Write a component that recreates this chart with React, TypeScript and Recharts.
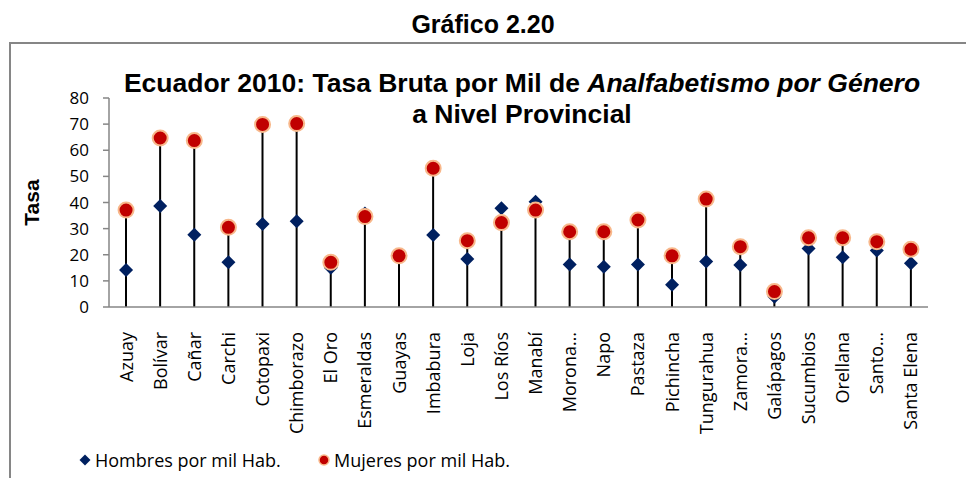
import React from 'react';
import { ComposedChart, Bar, Line, XAxis, YAxis, Legend } from 'recharts';

const provincias = [
  'Azuay', 'Bolívar', 'Cañar', 'Carchi', 'Cotopaxi', 'Chimborazo', 'El Oro', 'Esmeraldas',
  'Guayas', 'Imbabura', 'Loja', 'Los Ríos', 'Manabí', 'Morona…', 'Napo', 'Pastaza',
  'Pichincha', 'Tungurahua', 'Zamora…', 'Galápagos', 'Sucumbios', 'Orellana', 'Santo…', 'Santa Elena',
];
const hombres = [
  14.2, 38.7, 27.7, 17.1, 31.8, 32.8, 15.0, 35.8, 19.0, 27.6, 18.4, 37.8,
  40.3, 16.3, 15.4, 16.3, 8.5, 17.4, 16.1, 3.9, 22.4, 19.0, 21.6, 16.7,
];
const mujeres = [
  37.1, 64.7, 63.7, 30.5, 69.9, 70.2, 17.1, 34.6, 19.6, 53.1, 25.4, 32.3,
  37.1, 28.8, 28.8, 33.3, 19.6, 41.3, 23.1, 5.9, 26.5, 26.5, 25.0, 22.1,
];
const yTicks = [0, 10, 20, 30, 40, 50, 60, 70, 80];

const NAVY = '#002060';
const RED = '#C00000';
const RED_RING = '#F8B88B';
const AXIS = '#868686';
const SANS = '"Open Sans", sans-serif';
const ARIAL = '"Liberation Sans", Arial, sans-serif';

const data = provincias.map((p, i) => ({
  provincia: p,
  hombres: hombres[i],
  mujeres: mujeres[i],
}));

const Diamond = (props: any) => {
  const { cx, cy, index } = props;
  if (cx == null || cy == null) return null;
  const s = 7;
  return (
    <path
      key={`h-${index}`}
      d={`M${cx},${cy - s}L${cx + s},${cy}L${cx},${cy + s}L${cx - s},${cy}Z`}
      fill={NAVY}
    />
  );
};

const Dot = (props: any) => {
  const { cx, cy, index } = props;
  if (cx == null || cy == null) return null;
  return <circle key={`m-${index}`} cx={cx} cy={cy} r={7.5} fill={RED} stroke={RED_RING} strokeWidth={2} />;
};

const ProvTick = ({ x, y, payload }: any) => {
  const ay = y + 25;
  return (
    <text
      x={x}
      y={ay}
      dy="0.36em"
      transform={`rotate(-90, ${x}, ${ay})`}
      textAnchor="end"
      fontFamily={SANS}
      fontSize={18}
      fill="#000"
    >
      {payload.value}
    </text>
  );
};

// only the two marker series, the stems stay out of the legend
const LegendBox = ({ payload }: any) => (
  <div style={{ display: 'flex', alignItems: 'center', fontFamily: SANS, fontSize: 18, lineHeight: '24px', color: '#000', whiteSpace: 'nowrap' }}>
    {(payload || [])
      .filter((e: any) => e.type !== 'none' && e.dataKey !== 'tallo')
      .map((e: any) => (
        <div key={e.value} style={{ display: 'flex', alignItems: 'center', width: e.dataKey === 'hombres' ? 239 : 'auto' }}>
          <svg width={14} height={14} style={{ marginRight: 3 }}>
            {e.dataKey === 'hombres' ? (
              <path d="M7,1.5L12.5,7L7,12.5L1.5,7Z" fill={NAVY} />
            ) : (
              <circle cx={7} cy={7} r={5} fill={RED} stroke={RED_RING} strokeWidth={1.5} />
            )}
          </svg>
          <span>{e.value}</span>
        </div>
      ))}
  </div>
);

export default function App() {
  return (
    <div style={{ position: 'absolute', left: 0, top: 0, width: 966, height: 478, overflow: 'hidden', background: '#fff' }}>
      <div
        style={{
          position: 'absolute', left: 0, top: 9, width: 966, textAlign: 'center',
          fontFamily: ARIAL, fontWeight: 'bold', fontSize: 25, lineHeight: '30px',
        }}
      >
        Gráfico 2.20
      </div>
      <div
        style={{
          position: 'absolute', left: 9, top: 42, width: 1100, height: 600,
          border: `2.5px solid ${AXIS}`, boxSizing: 'border-box',
        }}
      />
      <ComposedChart
        width={966}
        height={478}
        data={data}
        margin={{ top: 98, right: 38, bottom: 0, left: 69 }}
        style={{ position: 'absolute', left: 0, top: 0 }}
      >
        <XAxis
          dataKey="provincia"
          interval={0}
          height={171}
          tickLine={false}
          tickSize={0}
          tickMargin={0}
          stroke={AXIS}
          strokeWidth={1.5}
          tick={<ProvTick />}
        />
        <YAxis
          domain={[0, 80]}
          ticks={yTicks}
          width={40}
          tickSize={6}
          tickMargin={14}
          stroke={AXIS}
          strokeWidth={1.5}
          tick={{ fontFamily: SANS, fontSize: 17, fill: '#000' }}
          label={({ viewBox }: any) => (
            <text
              x={viewBox.x - 30}
              y={viewBox.y + viewBox.height / 2}
              transform={`rotate(-90, ${viewBox.x - 30}, ${viewBox.y + viewBox.height / 2})`}
              textAnchor="middle"
              fontFamily={ARIAL}
              fontWeight="bold"
              fontSize={21}
              fill="#000"
            >
              Tasa
            </text>
          )}
        />
        <Legend
          layout="horizontal"
          verticalAlign="middle"
          content={<LegendBox />}
          wrapperStyle={{ left: 78, top: 448, width: 600 }}
        />
        <Bar dataKey="mujeres" name="tallo" barSize={2} fill="#000" legendType="none" isAnimationActive={false} />
        <Line
          dataKey="hombres"
          name="Hombres por mil Hab."
          stroke="none"
          dot={Diamond}
          activeDot={false}
          legendType="diamond"
          isAnimationActive={false}
        />
        <Line
          dataKey="mujeres"
          name="Mujeres por mil Hab."
          stroke="none"
          dot={Dot}
          activeDot={false}
          legendType="circle"
          isAnimationActive={false}
        />
      </ComposedChart>
      <div
        style={{
          position: 'absolute', left: 112, top: 68, width: 820, textAlign: 'center',
          fontFamily: ARIAL, fontWeight: 'bold', fontSize: 26.5, lineHeight: '31px', color: '#000',
        }}
      >
        Ecuador 2010: Tasa Bruta por Mil de <i>Analfabetismo por Género</i>
        <br />
        a Nivel Provincial
      </div>
    </div>
  );
}
